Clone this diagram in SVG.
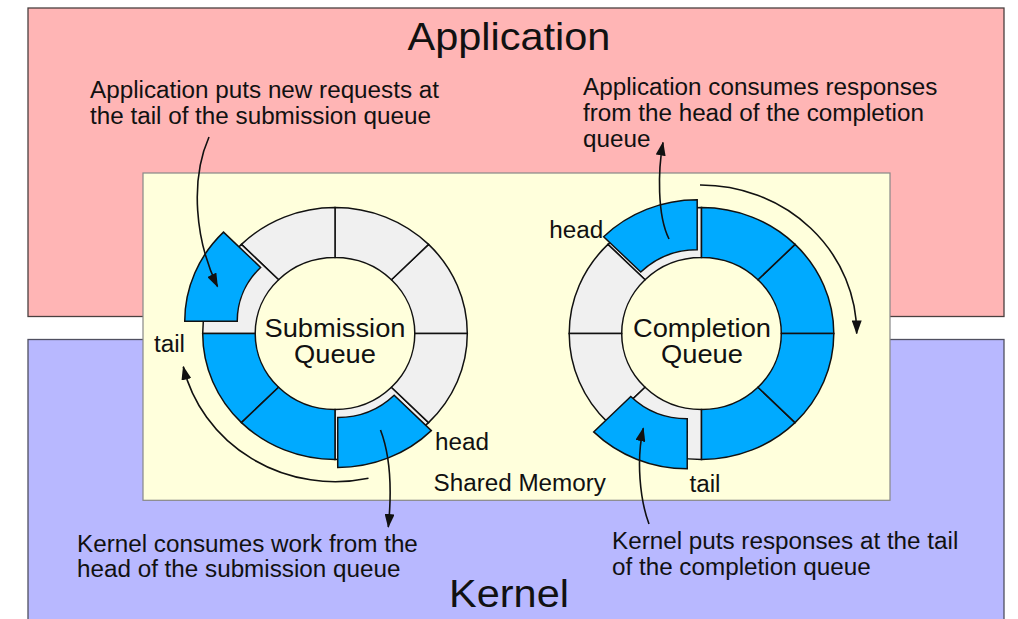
<svg xmlns="http://www.w3.org/2000/svg" xmlns:xlink="http://www.w3.org/1999/xlink" width="1018" height="619" viewBox="0 0 1018 619">
<style>
.txt{font-family:"Liberation Sans",Arial,sans-serif;fill:#111;}
.body{font-size:23.1px;}
.title{font-size:39.5px;}
.ring{font-size:26px;}
.gray{fill:#f0f0f0;stroke:#111;stroke-width:1.5;}
.blue{fill:#00aaff;stroke:#111;stroke-width:1.5;}
.arrow{fill:none;stroke:#111;stroke-width:1.6;marker-end:url(#ah);}
</style>
<defs>
<marker id="ah" markerWidth="14" markerHeight="10" refX="13" refY="5" orient="auto" markerUnits="userSpaceOnUse">
<path d="M0,0 L14,5 L0,10 Z" fill="#111"/>
</marker>
<path id="s0" vector-effect="non-scaling-stroke" d="M126,0 A126,126 0 0 0 89.1,-89.1 L53.74,-53.74 A76,76 0 0 1 76,0 Z"/>
<path id="s1" vector-effect="non-scaling-stroke" d="M89.1,-89.1 A126,126 0 0 0 0,-126 L0,-76 A76,76 0 0 1 53.74,-53.74 Z"/>
<path id="s2" vector-effect="non-scaling-stroke" d="M0,-126 A126,126 0 0 0 -89.1,-89.1 L-53.74,-53.74 A76,76 0 0 1 0,-76 Z"/>
<path id="s3" vector-effect="non-scaling-stroke" d="M-89.1,-89.1 A126,126 0 0 0 -126,0 L-76,0 A76,76 0 0 1 -53.74,-53.74 Z"/>
<path id="s4" vector-effect="non-scaling-stroke" d="M-126,0 A126,126 0 0 0 -89.1,89.1 L-53.74,53.74 A76,76 0 0 1 -76,0 Z"/>
<path id="s5" vector-effect="non-scaling-stroke" d="M-89.1,89.1 A126,126 0 0 0 0,126 L0,76 A76,76 0 0 1 -53.74,53.74 Z"/>
<path id="s6" vector-effect="non-scaling-stroke" d="M0,126 A126,126 0 0 0 89.1,89.1 L53.74,53.74 A76,76 0 0 1 0,76 Z"/>
<path id="s7" vector-effect="non-scaling-stroke" d="M89.1,89.1 A126,126 0 0 0 126,0 L76,0 A76,76 0 0 1 53.74,53.74 Z"/>
</defs>

<g id="application">
<rect x="28" y="8" width="976" height="308.5" fill="#ffb5b5" stroke="#4a4040" stroke-width="1.3"/>
<text class="txt title" transform="scale(1.05 1)" x="484.76" y="50" text-anchor="middle">Application</text>
</g>

<g id="kernel">
<rect x="28" y="339.5" width="976" height="290" fill="#b8b8ff" stroke="#505060" stroke-width="1.3"/>
<text class="txt title" transform="scale(1.05 1)" x="484.76" y="606.7" text-anchor="middle">Kernel</text>
</g>

<g id="shared-memory">
<rect x="143" y="173" width="747" height="327.3" fill="#ffffdc" stroke="#888" stroke-width="1.2"/>
<text class="txt body" transform="scale(1.05 1)" x="412.86" y="490.7">Shared Memory</text>
</g>

<g id="submission-queue">
<g transform="translate(335 333.5) scale(1.05 1)">
<use xlink:href="#s0" class="gray"/>
<use xlink:href="#s1" class="gray"/>
<use xlink:href="#s2" class="gray"/>
<use xlink:href="#s3" class="gray"/>
<use xlink:href="#s6" class="gray"/>
<use xlink:href="#s7" class="gray"/>
<use xlink:href="#s4" class="blue"/>
<use xlink:href="#s5" class="blue"/>
<use xlink:href="#s3" class="blue" transform="translate(-17.1 -12.3)"/>
<use xlink:href="#s6" class="blue" transform="translate(2.6 8)"/>
</g>
<g transform="scale(1.05 1)">
<text class="txt ring" x="319.05" y="336.7" text-anchor="middle">Submission</text>
<text class="txt ring" x="319.05" y="363.3" text-anchor="middle">Queue</text>
<text class="txt body" x="146.67" y="352">tail</text>
<text class="txt body" x="414.29" y="450.5">head</text>
</g>
</g>

<g id="completion-queue">
<g transform="translate(701.5 333.5) scale(1.05 1)">
<use xlink:href="#s2" class="gray"/>
<use xlink:href="#s3" class="gray"/>
<use xlink:href="#s4" class="gray"/>
<use xlink:href="#s5" class="gray"/>
<use xlink:href="#s0" class="blue"/>
<use xlink:href="#s1" class="blue"/>
<use xlink:href="#s6" class="blue"/>
<use xlink:href="#s7" class="blue"/>
<use xlink:href="#s2" class="blue" transform="translate(-4.1 -7.7)"/>
<use xlink:href="#s5" class="blue" transform="translate(-13.6 9.3)"/>
</g>
<g transform="scale(1.05 1)">
<text class="txt ring" x="668.57" y="336.7" text-anchor="middle">Completion</text>
<text class="txt ring" x="668.57" y="363.3" text-anchor="middle">Queue</text>
<text class="txt body" x="523.14" y="238.3">head</text>
<text class="txt body" x="656.67" y="491.7">tail</text>
</g>
</g>

<g id="note-app-submit" transform="scale(1.05 1)">
<text class="txt body" x="85.71" y="98.4">Application puts new requests at</text>
<text class="txt body" x="85.71" y="124.4">the tail of the submission queue</text>
</g>
<g id="note-app-consume" transform="scale(1.05 1)">
<text class="txt body" x="555.24" y="94.7">Application consumes responses</text>
<text class="txt body" x="555.24" y="120.7">from the head of the completion</text>
<text class="txt body" x="555.24" y="146.7">queue</text>
</g>
<g id="note-kernel-consume" transform="scale(1.05 1)">
<text class="txt body" x="73.33" y="552">Kernel consumes work from the</text>
<text class="txt body" x="73.33" y="577.5">head of the submission queue</text>
</g>
<g id="note-kernel-put" transform="scale(1.05 1)">
<text class="txt body" x="582.86" y="549">Kernel puts responses at the tail</text>
<text class="txt body" x="582.86" y="575">of the completion queue</text>
</g>

<g id="connectors">
<path class="arrow" d="M209 137 C190 180 195 240 217.5 286.5"/>
<path class="arrow" d="M669 239 C657 215 658 170 663 142.5"/>
<path class="arrow" d="M368.5 478.3 A156 148.5 0 0 1 183.3 366.7"/>
<path class="arrow" d="M700 185 A156 148.5 0 0 1 856.7 333.5"/>
<path class="arrow" d="M380.5 430 C392 460 391 500 388.3 527"/>
<path class="arrow" d="M649 524 C640 500 636 460 643.3 428.3"/>
</g>
</svg>
